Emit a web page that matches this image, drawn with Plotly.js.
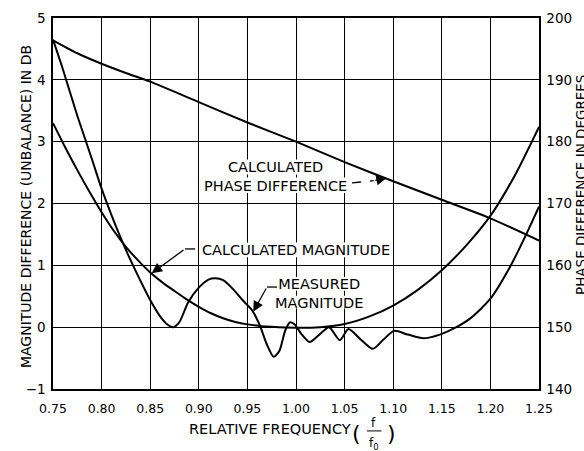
<!DOCTYPE html>
<html>
<head>
<meta charset="utf-8">
<script src="https://cdn.plot.ly/plotly-3.0.1.min.js"></script>
<style>
  html, body { margin: 0; padding: 0; background: #fff; }
  #chart { width: 584px; height: 451px; }
</style>
</head>
<body>
<div id="chart"></div>
<script>
// ---- Data ----
var measuredX = [0.75, 0.76, 0.775, 0.79, 0.80, 0.8125, 0.825, 0.8375, 0.85, 0.86, 0.868, 0.874, 0.88, 0.889, 0.90, 0.91, 0.917, 0.925, 0.935, 0.945, 0.955, 0.963, 0.97, 0.977, 0.983, 0.989, 0.994, 0.999, 1.005, 1.014, 1.024, 1.034, 1.045, 1.054, 1.066, 1.079, 1.09, 1.101, 1.115, 1.131, 1.148, 1.165, 1.18, 1.20, 1.22, 1.235, 1.25];
var measuredDb = [4.65, 4.18, 3.42, 2.72, 2.24, 1.72, 1.25, 0.83, 0.44, 0.18, 0.04, 0.0, 0.08, 0.40, 0.64, 0.77, 0.79, 0.76, 0.62, 0.44, 0.27, 0.02, -0.28, -0.48, -0.38, -0.05, 0.08, 0.04, -0.10, -0.24, -0.12, 0.0, -0.21, -0.03, -0.19, -0.35, -0.20, -0.06, -0.12, -0.18, -0.12, 0.0, 0.15, 0.46, 0.97, 1.44, 1.95];

var calcMagX = [0.75, 0.7625, 0.775, 0.7875, 0.80, 0.8125, 0.825, 0.8375, 0.85, 0.8625, 0.875, 0.8875, 0.90, 0.9125, 0.925, 0.9375, 0.95, 0.9625, 0.975, 1.00, 1.025, 1.05, 1.075, 1.10, 1.125, 1.15, 1.175, 1.20, 1.225, 1.25];
var calcMagDb = [3.30, 2.91, 2.54, 2.19, 1.86, 1.56, 1.30, 1.08, 0.885, 0.725, 0.585, 0.45, 0.33, 0.225, 0.145, 0.085, 0.045, 0.02, 0.005, -0.01, 0.0, 0.05, 0.17, 0.35, 0.60, 0.92, 1.32, 1.80, 2.45, 3.24];

var phaseX = [0.75, 0.775, 0.80, 0.825, 0.85, 0.90, 0.95, 1.00, 1.05, 1.10, 1.15, 1.20, 1.25];
var phaseDeg = [196.4, 194.3, 192.6, 191.1, 189.7, 186.4, 183.1, 180.0, 176.7, 173.6, 170.6, 167.6, 164.0];

var xTickVals = [0.75, 0.80, 0.85, 0.90, 0.95, 1.00, 1.05, 1.10, 1.15, 1.20, 1.25];
var xTickText = ["0.75", "0.80", "0.85", "0.90", "0.95", "1.00", "1.05", "1.10", "1.15", "1.20", "1.25"];
var yTickVals = [-1, 0, 1, 2, 3, 4, 5];
var yTickText = ["\u22121", "0", "1", "2", "3", "4", "5"];
var y2TickVals = [140, 150, 160, 170, 180, 190, 200];
var y2TickText = ["140", "150", "160", "170", "180", "190", "200"];

var FONT = "DejaVu Sans";
var lineStyle = {color: "black", width: 2, shape: "spline", smoothing: 0.7};

var traces = [
  {x: measuredX, y: measuredDb, type: "scatter", mode: "lines", line: lineStyle, name: "MEASURED MAGNITUDE", hoverinfo: "skip"},
  {x: calcMagX, y: calcMagDb, type: "scatter", mode: "lines", line: lineStyle, name: "CALCULATED MAGNITUDE", hoverinfo: "skip"},
  {x: phaseX, y: phaseDeg, type: "scatter", mode: "lines", yaxis: "y2", line: lineStyle, name: "CALCULATED PHASE DIFFERENCE", hoverinfo: "skip"}
];

function txt(text, x, y, opts) {
  var a = {text: text, x: x, y: y, xref: "x", yref: "y", showarrow: false,
           font: {family: FONT, size: 14.5, color: "black"},
           xanchor: "center", yanchor: "middle", align: "center"};
  for (var k in opts) a[k] = opts[k];
  return a;
}
function ptxt(text, x, y, size, opts) {
  var a = {text: text, x: x, y: y, xref: "paper", yref: "paper", showarrow: false,
           font: {family: FONT, size: size, color: "black"},
           xanchor: "center", yanchor: "middle"};
  for (var k in opts) a[k] = opts[k];
  return a;
}
function arrow(x, y, ax, ay) {
  return {text: "", x: x, y: y, ax: ax, ay: ay, xref: "x", yref: "y", axref: "x", ayref: "y",
          showarrow: true, arrowhead: 2, arrowsize: 1.6, arrowwidth: 1.3, arrowcolor: "black", standoff: 0};
}
// white patch that breaks the grid behind a label (drawn between grid and traces)
function patch(x0, x1, y0, y1) {
  return {type: "rect", xref: "x", yref: "y", x0: x0, x1: x1, y0: y0, y1: y1,
          fillcolor: "white", line: {width: 0}, layer: "between"};
}

var annotations = [
  txt("CALCULATED<br>PHASE DIFFERENCE", 0.979, 2.44),
  txt("CALCULATED MAGNITUDE", 1.0005, 1.25),
  txt("MEASURED<br>MAGNITUDE", 1.0237, 0.55),
  arrow(1.0933, 2.413, 1.080, 2.37),
  arrow(0.8515, 0.872, 0.8858, 1.265),
  arrow(0.956, 0.251, 0.9702, 0.649),
  ptxt("MAGNITUDE DIFFERENCE (UNBALANCE) IN DB", -0.0556, 0.493, 14, {textangle: -90}),
  ptxt("PHASE DIFFERENCE IN DEGREES", 1.0864, 0.55, 13.5, {textangle: -90}),
  ptxt("RELATIVE FREQUENCY", 0.4455, -0.1078, 14.5),
  ptxt("(", 0.6255, -0.121, 22),
  ptxt(")", 0.6955, -0.121, 22),
  ptxt("f", 0.660, -0.0916, 12),
  ptxt("f<sub>0</sub>", 0.660, -0.149, 12)
];

var shapes = [
  patch(0.926, 1.031, 2.47, 2.71),
  patch(0.903, 1.058, 2.17, 2.42),
  patch(0.905, 1.096, 1.13, 1.37),
  patch(0.982, 1.066, 0.59, 0.81),
  patch(0.978, 1.070, 0.30, 0.51),
  {type: "line", xref: "x", yref: "y", x0: 1.0576, y0: 2.332, x1: 1.080, y1: 2.37, line: {color: "black", width: 1.3, dash: "dash"}},
  {type: "line", xref: "x", yref: "y", x0: 0.8961, y0: 1.265, x1: 0.8858, y1: 1.265, line: {color: "black", width: 1.3}},
  {type: "line", xref: "x", yref: "y", x0: 0.9805, y0: 0.649, x1: 0.9702, y1: 0.649, line: {color: "black", width: 1.3}},
  {type: "line", xref: "paper", yref: "paper", x0: 0.646, y0: -0.113, x1: 0.676, y1: -0.113, line: {color: "black", width: 1}}
];

var axisCommon = {
  showline: true, linecolor: "black", linewidth: 1.6, ticks: "", zeroline: false,
  gridcolor: "black", gridwidth: 1
};

var layout = {
  width: 584, height: 451,
  margin: {l: 53, r: 45, t: 18, b: 62, pad: 0},
  paper_bgcolor: "white", plot_bgcolor: "white",
  showlegend: false,
  font: {family: FONT, color: "black", size: 13},
  xaxis: Object.assign({}, axisCommon, {
    range: [0.75, 1.25], tickmode: "array", tickvals: xTickVals, ticktext: xTickText,
    showgrid: true, mirror: true, tickfont: {family: FONT, size: 12.5}, ticklabelstandoff: 7
  }),
  yaxis: Object.assign({}, axisCommon, {
    range: [-1, 5], tickmode: "array", tickvals: yTickVals, ticktext: yTickText,
    showgrid: true, mirror: true, tickfont: {family: FONT, size: 13.5}, ticklabelstandoff: 3
  }),
  yaxis2: Object.assign({}, axisCommon, {
    overlaying: "y", side: "right", range: [140, 200], tickmode: "array",
    tickvals: y2TickVals, ticktext: y2TickText, showgrid: false,
    tickfont: {family: FONT, size: 13.5}, ticklabelstandoff: 3
  }),
  annotations: annotations,
  shapes: shapes
};

Plotly.newPlot("chart", traces, layout, {staticPlot: true, displayModeBar: false});
</script>
</body>
</html>
